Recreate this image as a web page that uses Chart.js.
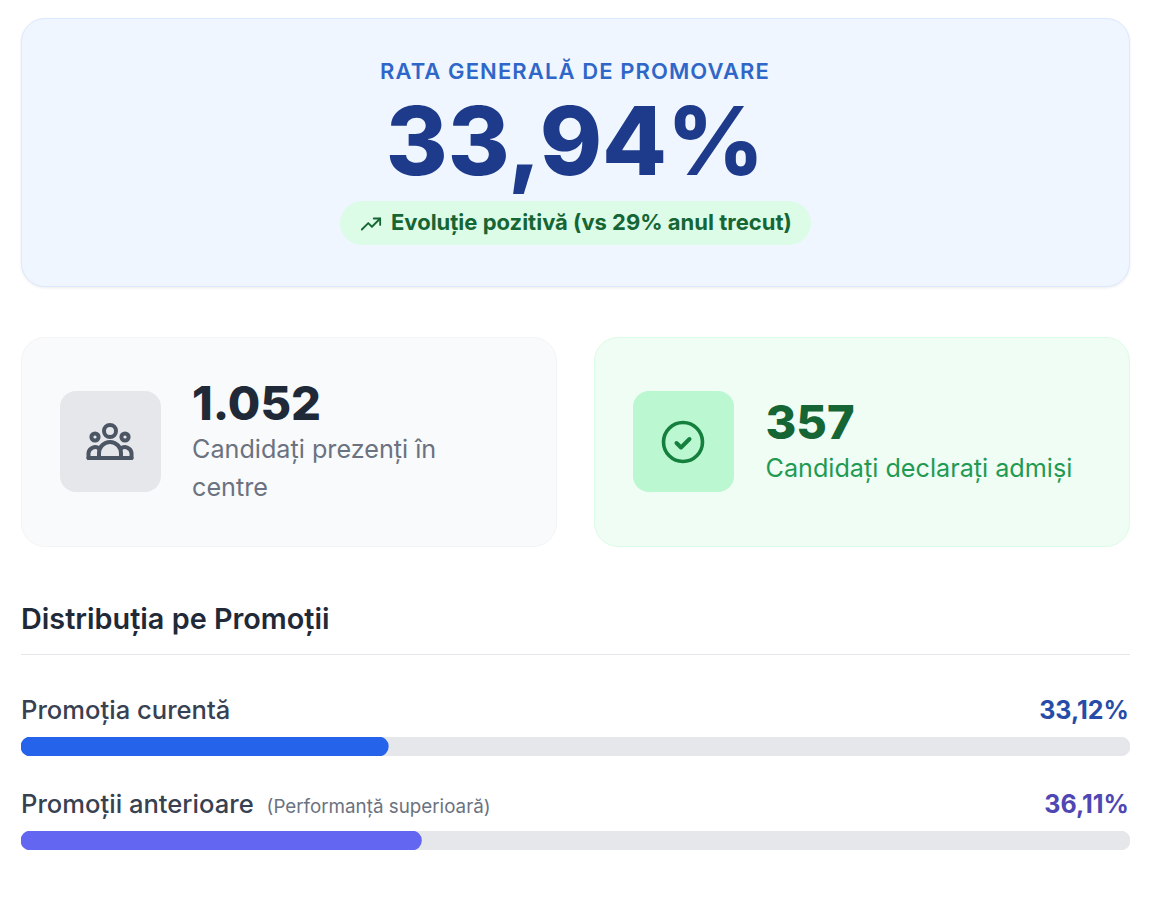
<!DOCTYPE html>
<html lang="ro">
<head>
<meta charset="utf-8">
<title>Rata de promovare</title>
<script src="https://cdn.jsdelivr.net/npm/chart.js@4"></script>
<style>
    * { box-sizing: border-box; }
    html, body { margin: 0; background: #fff; }
    body { width: 1152px; height: 899px; position: relative; overflow: hidden; font-family: Inter, sans-serif; }
    .abs { position: absolute; white-space: nowrap; }

    .hero { left: 21px; top: 18px; width: 1109px; height: 269px; background: #eff6ff; border: 1px solid #dbeafe; border-radius: 24px; box-shadow: 0 1px 3px rgba(0,0,0,.08); }
    .hero-label { left: 0; width: 1150px; top: 57px; text-align: center; font-size: 22px; line-height: 28px; font-weight: 600; letter-spacing: 1.1px; color: #2f67c8; }
    .hero-value { left: 0; width: 1150px; top: 93px; text-align: center; font-size: 94.4px; line-height: 96px; font-weight: 800; color: #1e3a8a; }
    .pill { left: 340px; top: 201px; width: 471px; height: 44px; border-radius: 22px; background: #dcfce7; color: #166534; font-size: 22px; line-height: 43px; font-weight: 650; padding-left: 51px; }
    .pill svg { position: absolute; left: 20px; top: 12px; }

    .card { top: 337px; width: 536px; height: 210px; border-radius: 24px; border: 1px solid #f3f4f6; }
    .icon { top: 391px; width: 101px; height: 101px; border-radius: 16px; display: flex; align-items: center; justify-content: center; }
    .num { font-size: 47px; line-height: 48px; font-weight: 800; }
    .sub { font-size: 25.2px; line-height: 38px; }

    .section { left: 21px; top: 601px; font-size: 28.8px; line-height: 36px; font-weight: 600; color: #1f2937; }
    .rule { left: 21px; top: 654px; width: 1109px; height: 1px; background: #e5e7eb; }
    .bar-label { left: 21px; font-size: 25.6px; line-height: 32px; font-weight: 550; color: #374151; }
    .bar-label small { font-size: 18.8px; font-weight: 400; color: #6b7280; margin-left: 6px; }
    .bar-value { right: 23px; font-size: 25px; line-height: 32px; font-weight: 700; }
    .bar-wrap { left: 21px; width: 1109px; height: 19px; }
</style>
</head>
<body>

<div class="abs hero"></div>
<div class="abs hero-label">RATA GENERALĂ DE PROMOVARE</div>
<div class="abs hero-value">33,94%</div>
<div class="abs pill">
    <svg width="22" height="22" viewBox="0 0 24 24" fill="none" stroke="#166534" stroke-width="2" stroke-linecap="round" stroke-linejoin="round"><path d="M2 18l7-7 4 4 9-9"/><path d="M15 6h7v7"/></svg>
    Evoluție pozitivă (vs 29% anul trecut)
</div>

<div class="abs card" style="left:21px;background:#f9fafb"></div>
<div class="abs icon" style="left:60px;background:#e5e7eb">
    <svg width="48" height="40" viewBox="0 0 48 40" fill="none" stroke="#4b5563" stroke-width="4" stroke-linecap="round" stroke-linejoin="round" style="margin:0 2px 0 0">
        <circle cx="24" cy="9" r="6"/><circle cx="9" cy="15" r="3.6"/><circle cx="39" cy="15" r="3.6"/>
        <path d="M2.5 36v-5a6.5 6.5 0 0 1 11-4"/><path d="M45.5 36v-5a6.5 6.5 0 0 0-11-4"/>
        <path d="M13 36v-5a11 11 0 0 1 22 0v5"/><path d="M2.5 36h43"/>
    </svg>
</div>
<div class="abs num" style="left:192px;top:379px;color:#1f2937">1.052</div>
<div class="abs sub" style="left:192px;top:430px;color:#6b7280">Candidați prezenți în<br>centre</div>

<div class="abs card" style="left:594px;background:#f0fdf4;border-color:#dcfce7"></div>
<div class="abs icon" style="left:633px;background:#bbf7d0">
    <svg width="44" height="44" viewBox="0 0 44 44" fill="none" stroke="#15803d" stroke-width="3.6" stroke-linecap="round" stroke-linejoin="round" style="margin:0 2px 0 0">
        <circle cx="22" cy="22" r="19.5"/><path d="M15.5 23l4.5 4.5 8.5-8.5" stroke-width="4"/>
    </svg>
</div>
<div class="abs num" style="left:765.5px;top:398px;color:#166534">357</div>
<div class="abs sub" style="left:765.5px;top:449px;color:#1f9a52">Candidați declarați admiși</div>

<div class="abs section">Distribuția pe Promoții</div>
<div class="abs rule"></div>

<div class="abs bar-label" style="top:694px">Promoția curentă</div>
<div class="abs bar-value" style="top:694px;color:#264ca8">33,12%</div>
<div class="abs bar-wrap" style="top:737px"><canvas id="barCurenta"></canvas></div>

<div class="abs bar-label" style="top:788px">Promoții anterioare <small>(Performanță superioară)</small></div>
<div class="abs bar-value" style="top:788px;color:#4e47b3">36,11%</div>
<div class="abs bar-wrap" style="top:831px"><canvas id="barAnterioare"></canvas></div>

<script>
const categories = ['Promoția curentă', 'Promoții anterioare'];
const promotionRates = [33.12, 36.11];
const trackValues = [100, 100];
const barColors = ['#2563eb', '#6366f1'];
const trackColor = '#e5e7eb';

function drawBar(canvasId, index) {
    const ctx = document.getElementById(canvasId).getContext('2d');
    new Chart(ctx, {
        type: 'bar',
        data: {
            labels: [categories[index]],
            datasets: [
                { data: [promotionRates[index]], backgroundColor: barColors[index], order: 0 },
                { data: [trackValues[index]], backgroundColor: trackColor, order: 1 }
            ]
        },
        options: {
            indexAxis: 'y',
            responsive: true,
            maintainAspectRatio: false,
            animation: false,
            datasets: { bar: { grouped: false, barThickness: 19, borderRadius: 10, borderSkipped: false, borderWidth: 0 } },
            layout: { padding: 0 },
            plugins: { legend: { display: false }, tooltip: { enabled: false } },
            scales: {
                x: { display: false, min: 0, max: 100 },
                y: { display: false }
            }
        }
    });
}

drawBar('barCurenta', 0);
drawBar('barAnterioare', 1);
</script>
</body>
</html>
